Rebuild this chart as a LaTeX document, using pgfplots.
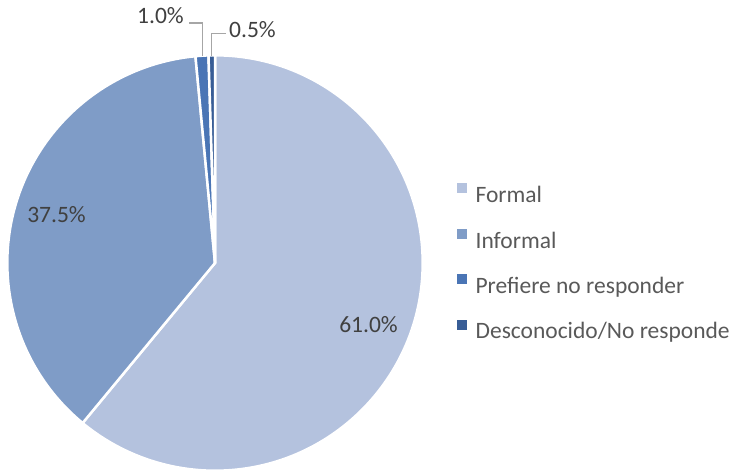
\documentclass[border=0pt]{standalone}
\usepackage{pgfplots}
\usepackage{pgfplotstable}
\pgfplotsset{compat=1.18}
\usepackage{fontspec}
\setmainfont{Carlito}
\definecolor{cFormal}{RGB}{180,194,222}
\definecolor{cInformal}{RGB}{127,156,199}
\definecolor{cPref}{RGB}{74,117,181}
\definecolor{cDesc}{RGB}{56,93,150}
\definecolor{lbl}{RGB}{64,64,64}
\definecolor{leg}{RGB}{89,89,89}
\definecolor{leader}{RGB}{166,166,166}
\pgfplotstableread[col sep=comma]{
cat,value
Formal,61.0
Informal,37.5
Prefiere no responder,1.0
Desconocido/No responde,0.5
}\piedata
\begin{document}
\begin{tikzpicture}
\pgfplotstablegetelem{0}{value}\of\piedata\let\vA\pgfplotsretval
\pgfplotstablegetelem{1}{value}\of\piedata\let\vB\pgfplotsretval
\pgfplotstablegetelem{2}{value}\of\piedata\let\vC\pgfplotsretval
\pgfplotstablegetelem{3}{value}\of\piedata\let\vD\pgfplotsretval
\pgfmathsetmacro\aA{90}
\pgfmathsetmacro\aB{\aA-3.6*\vA}
\pgfmathsetmacro\aC{\aB-3.6*\vB}
\pgfmathsetmacro\aD{\aC-3.6*\vC}
\pgfmathsetmacro\aE{\aD-3.6*\vD}
\def\R{207.7bp}
\pgfkeys{/pgf/number format/.cd, assume math mode=true, fixed, fixed zerofill, precision=1}
\begin{axis}[
  at={(0,0)}, anchor=south west,
  x=1bp, y=1bp,
  xmin=0, xmax=736, ymin=0, ymax=471,
  hide axis, clip=false,
  legend cell align=left,
  legend image code/.code={\fill[#1] (0bp,3.2bp) rectangle (9bp,12.2bp);},
  legend style={at={(axis cs:457,287.8)}, anchor=north west, draw=none, fill=none,
    inner sep=0pt, row sep=21bp, column sep=9bp,
    nodes={inner sep=0pt, text height=19bp, text depth=5bp},
    font=\fontsize{23.5bp}{28bp}\selectfont, text=leg},
]
\fill[cFormal, draw=white, line width=2.5bp] (axis cs:215,208) -- ++(\aA:\R) arc[start angle=\aA, end angle=\aB, radius=\R] -- cycle;
\fill[cInformal, draw=white, line width=2.5bp] (axis cs:215,208) -- ++(\aB:\R) arc[start angle=\aB, end angle=\aC, radius=\R] -- cycle;
\fill[cPref, draw=white, line width=2.5bp] (axis cs:215,208) -- ++(\aC:\R) arc[start angle=\aC, end angle=\aD, radius=\R] -- cycle;
\fill[cDesc, draw=white, line width=2.5bp] (axis cs:215,208) -- ++(\aD:\R) arc[start angle=\aD, end angle=\aE, radius=\R] -- cycle;
\draw[white, line width=2.5bp] (axis cs:215,208) -- ++(\aA:\R);
\addlegendimage{cFormal}\addlegendentry{Formal}
\addlegendimage{cInformal}\addlegendentry{Informal}
\addlegendimage{cPref}\addlegendentry{Prefiere no responder}
\addlegendimage{cDesc}\addlegendentry{Desconocido/No responde}
\begin{scope}[font=\fontsize{23.5bp}{28bp}\selectfont, text=lbl]
\node at (axis cs:368.5,146.5) {\pgfmathprintnumber{\vA}\%};
\node at (axis cs:56.5,256.5) {\pgfmathprintnumber{\vB}\%};
\node at (axis cs:160.5,455) {\pgfmathprintnumber{\vC}\%};
\node at (axis cs:252.5,441) {\pgfmathprintnumber{\vD}\%};
\end{scope}
\draw[leader, line width=1.2bp] (axis cs:189,448) -- (axis cs:202.5,448) -- (axis cs:202.5,415);
\draw[leader, line width=1.2bp] (axis cs:226,437.5) -- (axis cs:211.8,437.5) -- (axis cs:211.8,415);
\end{axis}
\pgfresetboundingbox
\useasboundingbox (0,0) rectangle (736bp,471bp);
\end{tikzpicture}
\end{document}
